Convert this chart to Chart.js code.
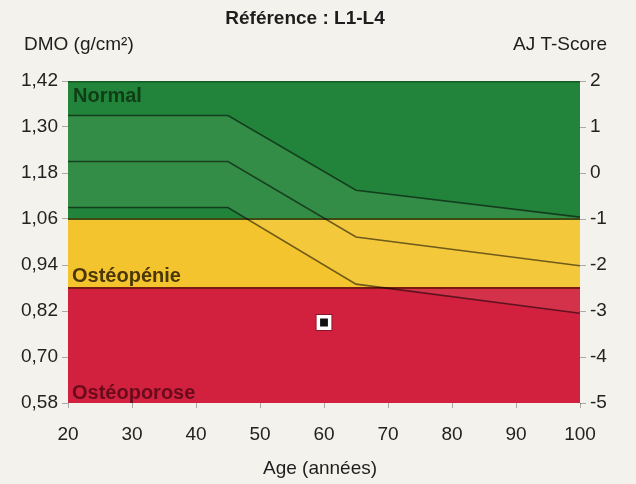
<!DOCTYPE html>
<html lang="fr">
<head>
<meta charset="utf-8">
<title>DMO L1-L4</title>
<script src="https://cdn.jsdelivr.net/npm/chart.js@4.4.1/dist/chart.umd.min.js"></script>
<style>
  html, body { margin: 0; padding: 0; background: #f4f2ec; }
  #wrap { width: 636px; height: 484px; position: relative; }
</style>
</head>
<body>
<div id="wrap"><canvas id="dmoChart" width="636" height="484"></canvas></div>
<script>
// axis ticks
var ageTicks = [20, 30, 40, 50, 60, 70, 80, 90, 100];
var dmoTicks = [0.58, 0.70, 0.82, 0.94, 1.06, 1.18, 1.30, 1.42];
var tScoreTicks = [-5, -4, -3, -2, -1, 0, 1, 2];

// reference curve: mean and +/- 1 SD (g/cm2)
var refAges = [20, 45, 65, 100];
var refPlus1 = [1.33, 1.33, 1.135, 1.065];
var refMean = [1.21, 1.21, 1.013, 0.938];
var refMinus1 = [1.09, 1.09, 0.89, 0.814];

// diagnostic zones (upper limit of each zone)
var zoneNames = ['Normal', 'Ostéopénie', 'Ostéoporose'];
var zoneTops = [1.42, 1.06, 0.88];

// measured value
var patientAge = [60];
var patientDmo = [0.79];

var FONT = '"Liberation Sans", Arial, sans-serif';

function pts(xs, ys) {
    return xs.map(function (x, i) { return { x: x, y: ys[i] }; });
}
function flat(y) {
    return [{ x: ageTicks[0], y: y }, { x: ageTicks[ageTicks.length - 1], y: y }];
}

// labels inside the plot and the captions around it
var chartTexts = {
    id: 'chartTexts',
    afterDatasetsDraw: function (chart) {
        var ctx = chart.ctx, a = chart.chartArea, ys = chart.scales.y;
        ctx.save();
        ctx.font = 'bold 20px ' + FONT;
        ctx.textAlign = 'left';
        ctx.fillStyle = '#0f3d16';
        ctx.textBaseline = 'top';
        ctx.fillText(zoneNames[0], a.left + 5, ys.getPixelForValue(zoneTops[0]) + 5);
        ctx.textBaseline = 'alphabetic';
        ctx.fillStyle = '#4a3606';
        ctx.fillText(zoneNames[1], a.left + 4, ys.getPixelForValue(zoneTops[2]) - 6);
        ctx.fillStyle = '#6a0b1c';
        ctx.fillText(zoneNames[2], a.left + 4, a.bottom - 4);
        ctx.restore();
    },
    afterDraw: function (chart) {
        var ctx = chart.ctx;
        ctx.save();
        ctx.fillStyle = '#1e1e1e';
        ctx.textBaseline = 'alphabetic';
        ctx.font = 'bold 19px ' + FONT;
        ctx.textAlign = 'center';
        ctx.fillText('Référence : L1-L4', 305, 24);
        ctx.font = '19px ' + FONT;
        ctx.textAlign = 'left';
        ctx.fillText('DMO (g/cm²)', 24, 50);
        ctx.textAlign = 'right';
        ctx.fillText('AJ T-Score', 607, 50);
        ctx.textAlign = 'center';
        ctx.fillText('Age (années)', 320, 474);
        ctx.restore();
    }
};

var curveColor = 'rgba(0, 0, 0, 0.55)';

var ctx = document.getElementById('dmoChart').getContext('2d');
var dmoChart = new Chart(ctx, {
    type: 'line',
    data: {
        datasets: [
            {   // patient
                data: pts(patientAge, patientDmo),
                showLine: false,
                pointStyle: 'rect',
                pointRadius: 8,
                backgroundColor: '#111',
                borderColor: '#fff',
                borderWidth: 3.5
            },
            {   // thin dark rim round the patient marker
                data: pts(patientAge, patientDmo),
                showLine: false,
                pointStyle: 'rect',
                pointRadius: 11,
                backgroundColor: 'rgba(0,0,0,0)',
                borderColor: 'rgba(60, 0, 10, 0.45)',
                borderWidth: 1.2
            },
            {   // +1 SD, light band down to -1 SD
                data: pts(refAges, refPlus1),
                borderColor: curveColor,
                borderWidth: 1.6,
                pointRadius: 0,
                fill: 4,
                backgroundColor: 'rgba(255, 255, 220, 0.08)'
            },
            {
                data: pts(refAges, refMean),
                borderColor: curveColor,
                borderWidth: 1.6,
                pointRadius: 0,
                fill: false
            },
            {
                data: pts(refAges, refMinus1),
                borderColor: curveColor,
                borderWidth: 1.6,
                pointRadius: 0,
                fill: false
            },
            {   // normal
                data: flat(zoneTops[0]),
                borderColor: '#145a22',
                borderWidth: 3,
                pointRadius: 0,
                fill: 6,
                backgroundColor: '#22843a'
            },
            {   // osteopenia
                data: flat(zoneTops[1]),
                borderColor: '#3f4a12',
                borderWidth: 2,
                pointRadius: 0,
                fill: 7,
                backgroundColor: '#f4c42e'
            },
            {   // osteoporosis
                data: flat(zoneTops[2]),
                borderColor: '#7a1a14',
                borderWidth: 2,
                pointRadius: 0,
                fill: 'start',
                backgroundColor: '#d1213f'
            }
        ]
    },
    options: {
        responsive: false,
        animation: false,
        layout: { padding: { top: 81, left: 0, right: 0, bottom: 0 } },
        plugins: {
            legend: { display: false },
            tooltip: { enabled: false },
            filler: { drawTime: 'beforeDatasetsDraw' }
        },
        scales: {
            x: {
                type: 'linear',
                min: 20,
                max: 100,
                afterBuildTicks: function (s) { s.ticks = ageTicks.map(function (v) { return { value: v }; }); },
                afterFit: function (s) { s.height = 81; },
                grid: { drawOnChartArea: false, tickLength: 5, color: 'rgba(0,0,0,0.3)' },
                border: { display: false },
                ticks: { color: '#222', padding: 15, font: { family: FONT, size: 19 }, maxRotation: 0 }
            },
            y: {
                position: 'left',
                min: 0.58,
                max: 1.42,
                afterBuildTicks: function (s) { s.ticks = dmoTicks.map(function (v) { return { value: v }; }); },
                afterFit: function (s) { s.width = 68; },
                grid: { drawOnChartArea: false, tickLength: 6, color: 'rgba(0,0,0,0.3)' },
                border: { display: false },
                ticks: {
                    color: '#222', padding: 4, font: { family: FONT, size: 19 },
                    callback: function (v) { return v.toFixed(2).replace('.', ','); }
                }
            },
            y2: {
                position: 'right',
                min: -5,
                max: 2,
                afterBuildTicks: function (s) { s.ticks = tScoreTicks.map(function (v) { return { value: v }; }); },
                afterFit: function (s) { s.width = 56; },
                grid: { drawOnChartArea: false, tickLength: 6, color: 'rgba(0,0,0,0.3)' },
                border: { display: false },
                ticks: { color: '#222', padding: 4, font: { family: FONT, size: 19 } }
            }
        }
    },
    plugins: [chartTexts]
});
</script>
</body>
</html>
